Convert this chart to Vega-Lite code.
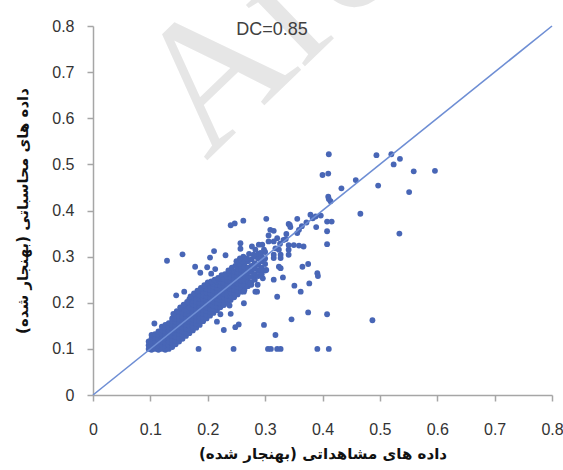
{
  "$schema": "https://vega.github.io/schema/vega-lite/v6.json",
  "autosize": {"type": "none"},
  "padding": {"left": 93, "top": 26, "right": 11, "bottom": 75},
  "width": 459,
  "height": 369,
  "background": "white",
  "config": {"view": {"stroke": null}},
  "datasets": {
    "wm": [{"obs": 0.197, "sim": 0.506, "label": "Archive"}],
    "dc": [{"obs": 0.312, "sim": 0.792, "label": "DC=0.85"}],
    "diag": [{"obs": 0, "sim": 0}, {"obs": 0.8, "sim": 0.8}],
    "pts": [
      {"obs":0.097,"sim":0.100},{"obs":0.097,"sim":0.108},{"obs":0.097,"sim":0.116},
      {"obs":0.102,"sim":0.098},{"obs":0.102,"sim":0.106},{"obs":0.102,"sim":0.114},{"obs":0.102,"sim":0.122},{"obs":0.102,"sim":0.130},
      {"obs":0.108,"sim":0.100},{"obs":0.108,"sim":0.108},{"obs":0.108,"sim":0.116},{"obs":0.108,"sim":0.124},{"obs":0.108,"sim":0.132},
      {"obs":0.114,"sim":0.098},{"obs":0.114,"sim":0.106},{"obs":0.114,"sim":0.114},{"obs":0.114,"sim":0.122},{"obs":0.114,"sim":0.130},{"obs":0.114,"sim":0.138},
      {"obs":0.120,"sim":0.100},{"obs":0.120,"sim":0.108},{"obs":0.120,"sim":0.116},{"obs":0.120,"sim":0.124},{"obs":0.120,"sim":0.132},{"obs":0.120,"sim":0.140},{"obs":0.120,"sim":0.148},
      {"obs":0.126,"sim":0.098},{"obs":0.126,"sim":0.106},{"obs":0.126,"sim":0.114},{"obs":0.126,"sim":0.122},{"obs":0.126,"sim":0.130},{"obs":0.126,"sim":0.138},{"obs":0.126,"sim":0.146},{"obs":0.126,"sim":0.152},
      {"obs":0.132,"sim":0.100},{"obs":0.132,"sim":0.108},{"obs":0.132,"sim":0.116},{"obs":0.132,"sim":0.124},{"obs":0.132,"sim":0.132},{"obs":0.132,"sim":0.140},{"obs":0.132,"sim":0.148},{"obs":0.132,"sim":0.156},
      {"obs":0.138,"sim":0.104},{"obs":0.138,"sim":0.112},{"obs":0.138,"sim":0.120},{"obs":0.138,"sim":0.128},{"obs":0.138,"sim":0.136},{"obs":0.138,"sim":0.144},{"obs":0.138,"sim":0.152},{"obs":0.138,"sim":0.160},{"obs":0.138,"sim":0.166},
      {"obs":0.144,"sim":0.110},{"obs":0.144,"sim":0.118},{"obs":0.144,"sim":0.126},{"obs":0.144,"sim":0.134},{"obs":0.144,"sim":0.142},{"obs":0.144,"sim":0.150},{"obs":0.144,"sim":0.158},{"obs":0.144,"sim":0.166},{"obs":0.144,"sim":0.172},
      {"obs":0.150,"sim":0.116},{"obs":0.150,"sim":0.124},{"obs":0.150,"sim":0.132},{"obs":0.150,"sim":0.140},{"obs":0.150,"sim":0.148},{"obs":0.150,"sim":0.156},{"obs":0.150,"sim":0.164},{"obs":0.150,"sim":0.172},{"obs":0.150,"sim":0.180},
      {"obs":0.156,"sim":0.122},{"obs":0.156,"sim":0.130},{"obs":0.156,"sim":0.138},{"obs":0.156,"sim":0.146},{"obs":0.156,"sim":0.154},{"obs":0.156,"sim":0.162},{"obs":0.156,"sim":0.170},{"obs":0.156,"sim":0.178},{"obs":0.156,"sim":0.186},
      {"obs":0.162,"sim":0.128},{"obs":0.162,"sim":0.136},{"obs":0.162,"sim":0.144},{"obs":0.162,"sim":0.152},{"obs":0.162,"sim":0.160},{"obs":0.162,"sim":0.168},{"obs":0.162,"sim":0.176},{"obs":0.162,"sim":0.184},{"obs":0.162,"sim":0.194},
      {"obs":0.168,"sim":0.134},{"obs":0.168,"sim":0.142},{"obs":0.168,"sim":0.150},{"obs":0.168,"sim":0.158},{"obs":0.168,"sim":0.166},{"obs":0.168,"sim":0.174},{"obs":0.168,"sim":0.182},{"obs":0.168,"sim":0.190},{"obs":0.168,"sim":0.200},{"obs":0.168,"sim":0.208},
      {"obs":0.174,"sim":0.140},{"obs":0.174,"sim":0.148},{"obs":0.174,"sim":0.156},{"obs":0.174,"sim":0.164},{"obs":0.174,"sim":0.172},{"obs":0.174,"sim":0.180},{"obs":0.174,"sim":0.188},{"obs":0.174,"sim":0.196},{"obs":0.174,"sim":0.204},{"obs":0.174,"sim":0.212},
      {"obs":0.180,"sim":0.146},{"obs":0.180,"sim":0.154},{"obs":0.180,"sim":0.162},{"obs":0.180,"sim":0.170},{"obs":0.180,"sim":0.178},{"obs":0.180,"sim":0.186},{"obs":0.180,"sim":0.194},{"obs":0.180,"sim":0.202},{"obs":0.180,"sim":0.210},{"obs":0.180,"sim":0.218},
      {"obs":0.186,"sim":0.152},{"obs":0.186,"sim":0.160},{"obs":0.186,"sim":0.168},{"obs":0.186,"sim":0.176},{"obs":0.186,"sim":0.184},{"obs":0.186,"sim":0.192},{"obs":0.186,"sim":0.200},{"obs":0.186,"sim":0.208},{"obs":0.186,"sim":0.216},{"obs":0.186,"sim":0.224},
      {"obs":0.192,"sim":0.160},{"obs":0.192,"sim":0.168},{"obs":0.192,"sim":0.176},{"obs":0.192,"sim":0.184},{"obs":0.192,"sim":0.192},{"obs":0.192,"sim":0.200},{"obs":0.192,"sim":0.208},{"obs":0.192,"sim":0.216},{"obs":0.192,"sim":0.224},{"obs":0.192,"sim":0.230},
      {"obs":0.198,"sim":0.166},{"obs":0.198,"sim":0.174},{"obs":0.198,"sim":0.182},{"obs":0.198,"sim":0.190},{"obs":0.198,"sim":0.198},{"obs":0.198,"sim":0.206},{"obs":0.198,"sim":0.214},{"obs":0.198,"sim":0.222},{"obs":0.198,"sim":0.230},{"obs":0.198,"sim":0.236},
      {"obs":0.204,"sim":0.172},{"obs":0.204,"sim":0.180},{"obs":0.204,"sim":0.188},{"obs":0.204,"sim":0.196},{"obs":0.204,"sim":0.204},{"obs":0.204,"sim":0.212},{"obs":0.204,"sim":0.220},{"obs":0.204,"sim":0.228},{"obs":0.204,"sim":0.236},
      {"obs":0.210,"sim":0.178},{"obs":0.210,"sim":0.186},{"obs":0.210,"sim":0.194},{"obs":0.210,"sim":0.202},{"obs":0.210,"sim":0.210},{"obs":0.210,"sim":0.218},{"obs":0.210,"sim":0.226},{"obs":0.210,"sim":0.234},{"obs":0.210,"sim":0.242},
      {"obs":0.216,"sim":0.184},{"obs":0.216,"sim":0.192},{"obs":0.216,"sim":0.200},{"obs":0.216,"sim":0.208},{"obs":0.216,"sim":0.216},{"obs":0.216,"sim":0.224},{"obs":0.216,"sim":0.232},{"obs":0.216,"sim":0.240},{"obs":0.216,"sim":0.246},
      {"obs":0.222,"sim":0.190},{"obs":0.222,"sim":0.198},{"obs":0.222,"sim":0.206},{"obs":0.222,"sim":0.214},{"obs":0.222,"sim":0.222},{"obs":0.222,"sim":0.230},{"obs":0.222,"sim":0.238},{"obs":0.222,"sim":0.246},{"obs":0.222,"sim":0.252},
      {"obs":0.228,"sim":0.196},{"obs":0.228,"sim":0.204},{"obs":0.228,"sim":0.212},{"obs":0.228,"sim":0.220},{"obs":0.228,"sim":0.228},{"obs":0.228,"sim":0.236},{"obs":0.228,"sim":0.244},{"obs":0.228,"sim":0.252},
      {"obs":0.234,"sim":0.200},{"obs":0.234,"sim":0.208},{"obs":0.234,"sim":0.216},{"obs":0.234,"sim":0.224},{"obs":0.234,"sim":0.232},{"obs":0.234,"sim":0.240},{"obs":0.234,"sim":0.248},{"obs":0.234,"sim":0.256},{"obs":0.234,"sim":0.262},
      {"obs":0.240,"sim":0.206},{"obs":0.240,"sim":0.214},{"obs":0.240,"sim":0.222},{"obs":0.240,"sim":0.230},{"obs":0.240,"sim":0.238},{"obs":0.240,"sim":0.246},{"obs":0.240,"sim":0.254},{"obs":0.240,"sim":0.262},{"obs":0.240,"sim":0.268},
      {"obs":0.246,"sim":0.212},{"obs":0.246,"sim":0.220},{"obs":0.246,"sim":0.228},{"obs":0.246,"sim":0.236},{"obs":0.246,"sim":0.244},{"obs":0.246,"sim":0.252},{"obs":0.246,"sim":0.260},{"obs":0.246,"sim":0.268},
      {"obs":0.252,"sim":0.218},{"obs":0.252,"sim":0.226},{"obs":0.252,"sim":0.234},{"obs":0.252,"sim":0.242},{"obs":0.252,"sim":0.250},{"obs":0.252,"sim":0.258},{"obs":0.252,"sim":0.266},{"obs":0.252,"sim":0.274},
      {"obs":0.258,"sim":0.224},{"obs":0.258,"sim":0.232},{"obs":0.258,"sim":0.240},{"obs":0.258,"sim":0.248},{"obs":0.258,"sim":0.256},{"obs":0.258,"sim":0.264},{"obs":0.258,"sim":0.272},{"obs":0.258,"sim":0.280},
      {"obs":0.264,"sim":0.228},{"obs":0.264,"sim":0.238},{"obs":0.264,"sim":0.248},{"obs":0.264,"sim":0.258},{"obs":0.264,"sim":0.268},{"obs":0.264,"sim":0.278},{"obs":0.264,"sim":0.286},
      {"obs":0.270,"sim":0.236},{"obs":0.270,"sim":0.246},{"obs":0.270,"sim":0.256},{"obs":0.270,"sim":0.266},{"obs":0.270,"sim":0.276},{"obs":0.270,"sim":0.290},
      {"obs":0.276,"sim":0.244},{"obs":0.276,"sim":0.256},{"obs":0.276,"sim":0.268},{"obs":0.276,"sim":0.280},{"obs":0.276,"sim":0.294},
      {"obs":0.282,"sim":0.250},{"obs":0.282,"sim":0.262},{"obs":0.282,"sim":0.274},{"obs":0.282,"sim":0.286},{"obs":0.282,"sim":0.300},
      {"obs":0.288,"sim":0.258},{"obs":0.288,"sim":0.270},{"obs":0.288,"sim":0.282},{"obs":0.288,"sim":0.296},{"obs":0.288,"sim":0.306},
      {"obs":0.294,"sim":0.262},{"obs":0.294,"sim":0.276},{"obs":0.294,"sim":0.290},{"obs":0.294,"sim":0.300},
      {"obs":0.300,"sim":0.270},{"obs":0.300,"sim":0.284},{"obs":0.300,"sim":0.296},{"obs":0.300,"sim":0.310},
      {"obs":0.140,"sim":0.176},{"obs":0.146,"sim":0.182},{"obs":0.152,"sim":0.190},{"obs":0.158,"sim":0.196},{"obs":0.164,"sim":0.202},
      {"obs":0.170,"sim":0.214},{"obs":0.176,"sim":0.220},{"obs":0.182,"sim":0.226},{"obs":0.188,"sim":0.232},{"obs":0.194,"sim":0.238},
      {"obs":0.200,"sim":0.244},{"obs":0.206,"sim":0.246},{"obs":0.212,"sim":0.250},{"obs":0.218,"sim":0.254},{"obs":0.224,"sim":0.260},
      {"obs":0.230,"sim":0.262},{"obs":0.236,"sim":0.270},{"obs":0.242,"sim":0.276},{"obs":0.248,"sim":0.280},{"obs":0.254,"sim":0.284},{"obs":0.260,"sim":0.290},
      {"obs":0.262,"sim":0.300},{"obs":0.268,"sim":0.296},{"obs":0.272,"sim":0.306},{"obs":0.250,"sim":0.290},{"obs":0.256,"sim":0.296},
      {"obs":0.318,"sim":0.318},{"obs":0.326,"sim":0.328},{"obs":0.336,"sim":0.338},{"obs":0.364,"sim":0.366},{"obs":0.372,"sim":0.374},{"obs":0.383,"sim":0.383},
      {"obs":0.411,"sim":0.522},{"obs":0.494,"sim":0.520},{"obs":0.520,"sim":0.522},{"obs":0.535,"sim":0.512},{"obs":0.524,"sim":0.500},
      {"obs":0.559,"sim":0.485},{"obs":0.596,"sim":0.486},{"obs":0.497,"sim":0.454},{"obs":0.400,"sim":0.477},{"obs":0.410,"sim":0.480},
      {"obs":0.458,"sim":0.466},{"obs":0.433,"sim":0.448},{"obs":0.551,"sim":0.440},{"obs":0.410,"sim":0.430},{"obs":0.414,"sim":0.420},
      {"obs":0.411,"sim":0.425},{"obs":0.466,"sim":0.393},{"obs":0.379,"sim":0.391},{"obs":0.388,"sim":0.387},{"obs":0.397,"sim":0.389},
      {"obs":0.408,"sim":0.376},{"obs":0.416,"sim":0.376},{"obs":0.408,"sim":0.355},{"obs":0.408,"sim":0.327},{"obs":0.389,"sim":0.364},
      {"obs":0.534,"sim":0.350},{"obs":0.487,"sim":0.162},{"obs":0.356,"sim":0.382},{"obs":0.343,"sim":0.369},{"obs":0.302,"sim":0.382},
      {"obs":0.262,"sim":0.378},{"obs":0.240,"sim":0.368},{"obs":0.247,"sim":0.372},{"obs":0.129,"sim":0.291},{"obs":0.156,"sim":0.305},
      {"obs":0.211,"sim":0.312},{"obs":0.204,"sim":0.298},{"obs":0.231,"sim":0.303},{"obs":0.257,"sim":0.317},{"obs":0.257,"sim":0.329},
      {"obs":0.309,"sim":0.358},{"obs":0.315,"sim":0.356},{"obs":0.306,"sim":0.346},{"obs":0.341,"sim":0.371},{"obs":0.344,"sim":0.364},
      {"obs":0.359,"sim":0.358},{"obs":0.356,"sim":0.351},{"obs":0.337,"sim":0.349},{"obs":0.332,"sim":0.336},{"obs":0.341,"sim":0.325},
      {"obs":0.350,"sim":0.325},{"obs":0.359,"sim":0.324},{"obs":0.367,"sim":0.322},{"obs":0.321,"sim":0.340},{"obs":0.341,"sim":0.315},
      {"obs":0.341,"sim":0.304},{"obs":0.324,"sim":0.315},{"obs":0.315,"sim":0.297},{"obs":0.327,"sim":0.297},{"obs":0.324,"sim":0.278},
      {"obs":0.365,"sim":0.278},{"obs":0.375,"sim":0.284},{"obs":0.391,"sim":0.264},{"obs":0.392,"sim":0.258},{"obs":0.377,"sim":0.242},
      {"obs":0.362,"sim":0.224},{"obs":0.351,"sim":0.237},{"obs":0.331,"sim":0.255},{"obs":0.315,"sim":0.250},{"obs":0.321,"sim":0.213},
      {"obs":0.296,"sim":0.253},{"obs":0.287,"sim":0.239},{"obs":0.276,"sim":0.239},{"obs":0.283,"sim":0.224},{"obs":0.263,"sim":0.224},
      {"obs":0.292,"sim":0.271},{"obs":0.302,"sim":0.271},{"obs":0.327,"sim":0.275},{"obs":0.315,"sim":0.304},{"obs":0.327,"sim":0.304},
      {"obs":0.277,"sim":0.322},{"obs":0.283,"sim":0.315},{"obs":0.289,"sim":0.326},{"obs":0.295,"sim":0.326},{"obs":0.280,"sim":0.304},
      {"obs":0.292,"sim":0.308},{"obs":0.298,"sim":0.315},{"obs":0.306,"sim":0.333},{"obs":0.315,"sim":0.333},
      {"obs":0.228,"sim":0.195},{"obs":0.238,"sim":0.194},{"obs":0.222,"sim":0.175},{"obs":0.240,"sim":0.176},{"obs":0.263,"sim":0.199},
      {"obs":0.248,"sim":0.147},{"obs":0.254,"sim":0.153},{"obs":0.298,"sim":0.152},{"obs":0.318,"sim":0.130},{"obs":0.346,"sim":0.164},
      {"obs":0.375,"sim":0.179},{"obs":0.408,"sim":0.175},{"obs":0.228,"sim":0.141},{"obs":0.216,"sim":0.159},
      {"obs":0.184,"sim":0.100},{"obs":0.245,"sim":0.100},{"obs":0.305,"sim":0.100},{"obs":0.310,"sim":0.100},{"obs":0.321,"sim":0.100},
      {"obs":0.327,"sim":0.100},{"obs":0.391,"sim":0.100},{"obs":0.411,"sim":0.100},
      {"obs":0.107,"sim":0.155},{"obs":0.145,"sim":0.216},{"obs":0.159,"sim":0.224},{"obs":0.178,"sim":0.278},{"obs":0.187,"sim":0.265},
      {"obs":0.199,"sim":0.277},{"obs":0.206,"sim":0.263},{"obs":0.213,"sim":0.273},{"obs":0.274,"sim":0.242},{"obs":0.286,"sim":0.224}
    ]
  },
  "encoding": {
    "x": {
      "field": "obs", "type": "quantitative",
      "scale": {"domain": [0, 0.8], "nice": false, "zero": false},
      "axis": {
        "title": "داده های مشاهداتی (بهنجار شده)",
        "values": [0, 0.1, 0.2, 0.3, 0.4, 0.5, 0.6, 0.7, 0.8],
        "format": "~g", "grid": false, "labelFlush": false, "labelOverlap": false,
        "domainColor": "#a6a6a6", "domainWidth": 1.5, "tickColor": "#a6a6a6", "tickWidth": 1.5, "tickSize": 6,
        "labelFont": "Liberation Sans", "labelFontSize": 16, "labelColor": "#333333", "labelPadding": 20,
        "titleFont": "DejaVu Sans", "titleFontSize": 15, "titleFontWeight": "bold", "titleColor": "#111111", "titlePadding": 9
      }
    },
    "y": {
      "field": "sim", "type": "quantitative",
      "scale": {"domain": [0, 0.8], "nice": false, "zero": false},
      "axis": {
        "title": "داده های محاسباتی (بهنجار شده)",
        "values": [0, 0.1, 0.2, 0.3, 0.4, 0.5, 0.6, 0.7, 0.8],
        "format": "~g", "grid": false, "labelFlush": false, "labelOverlap": false,
        "domainColor": "#a6a6a6", "domainWidth": 1.5, "tickColor": "#a6a6a6", "tickWidth": 1.5, "tickSize": 6,
        "labelFont": "Liberation Sans", "labelFontSize": 16, "labelColor": "#333333", "labelPadding": 13,
        "titleFont": "DejaVu Sans", "titleFontSize": 15, "titleFontWeight": "bold", "titleColor": "#111111", "titlePadding": 21
      }
    }
  },
  "layer": [
    {
      "data": {"name": "wm"},
      "mark": {"type": "text", "font": "Liberation Serif", "fontSize": 185, "angle": -44, "align": "left", "baseline": "alphabetic", "color": "#e6e6e6", "clip": false},
      "encoding": {"text": {"field": "label"}}
    },
    {
      "data": {"name": "pts"},
      "mark": {"type": "circle", "size": 34, "opacity": 1, "color": "#4866b6"}
    },
    {
      "data": {"name": "diag"},
      "mark": {"type": "line", "color": "#6e8ed4", "strokeWidth": 1.6},
      "encoding": {}
    },
    {
      "data": {"name": "dc"},
      "mark": {"type": "text", "font": "Liberation Sans", "fontSize": 18, "color": "#404040", "align": "center", "baseline": "middle"},
      "encoding": {"text": {"field": "label"}}
    }
  ]
}
